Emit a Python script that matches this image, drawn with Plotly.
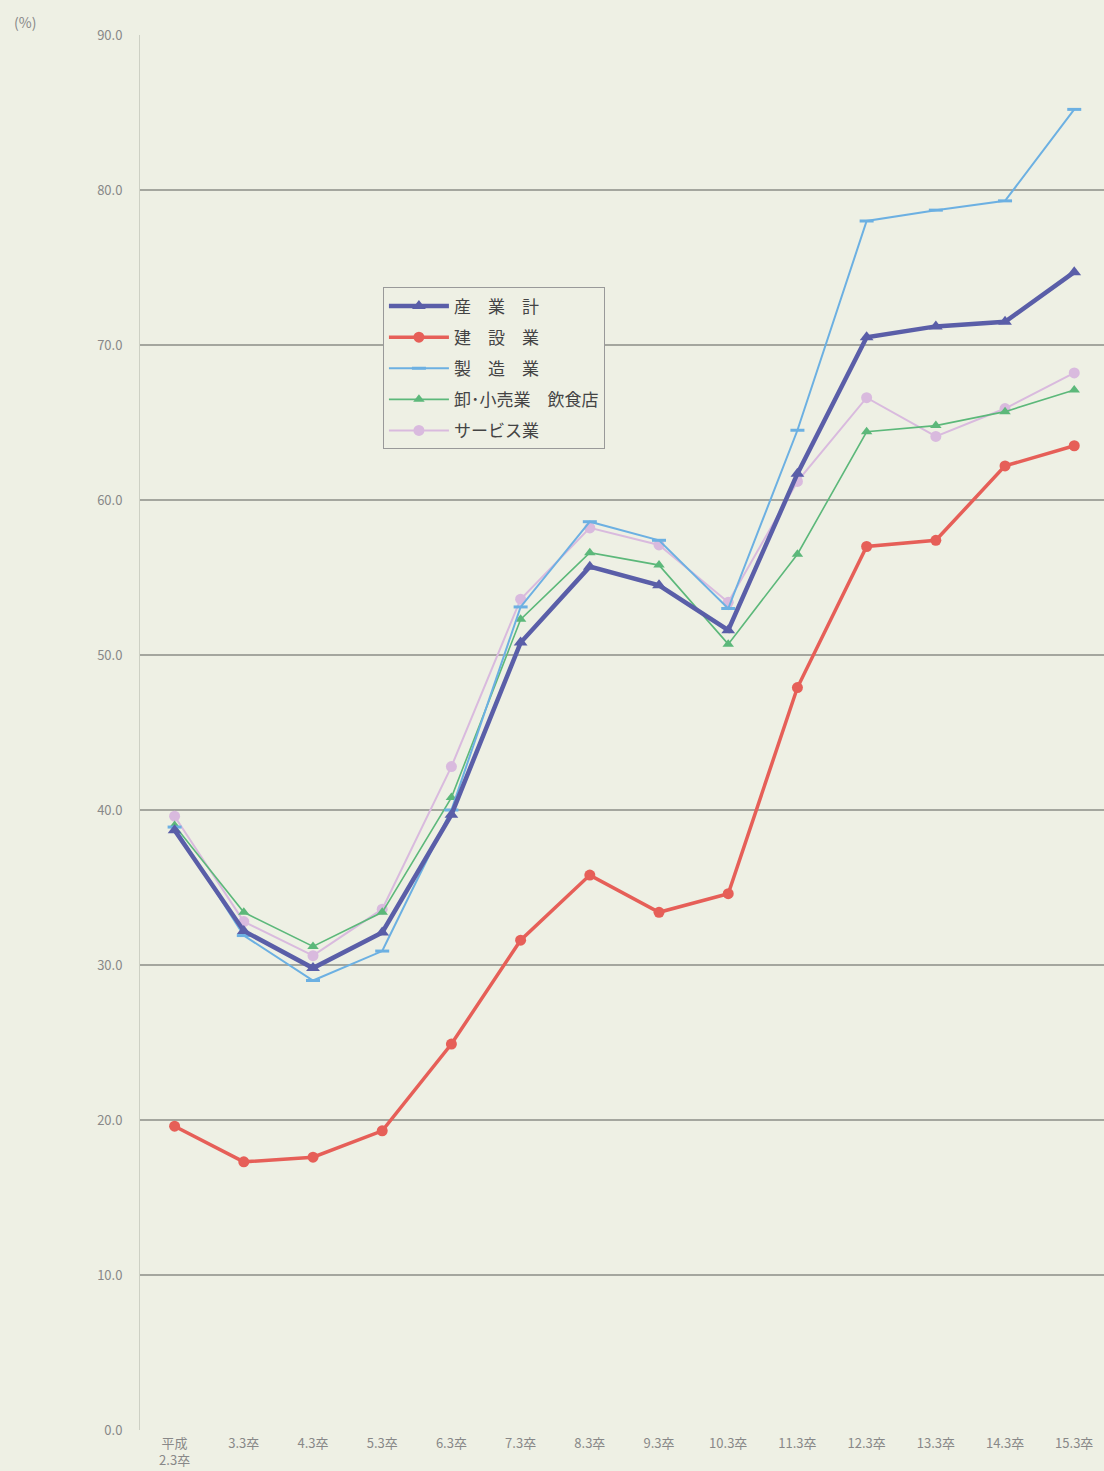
import plotly.graph_objects as go

categories = ["平成<br>2.3卒", "3.3卒", "4.3卒", "5.3卒", "6.3卒", "7.3卒", "8.3卒",
              "9.3卒", "10.3卒", "11.3卒", "12.3卒", "13.3卒", "14.3卒", "15.3卒"]

total = [38.7, 32.2, 29.8, 32.1, 39.7, 50.8, 55.7, 54.5, 51.6, 61.7, 70.5, 71.2, 71.5, 74.7]
construction = [19.6, 17.3, 17.6, 19.3, 24.9, 31.6, 35.8, 33.4, 34.6, 47.9, 57.0, 57.4, 62.2, 63.5]
manufacturing = [38.9, 31.9, 29.0, 30.9, 40.0, 53.1, 58.6, 57.4, 53.0, 64.5, 78.0, 78.7, 79.3, 85.2]
wholesale = [39.0, 33.4, 31.2, 33.4, 40.8, 52.3, 56.6, 55.8, 50.7, 56.5, 64.4, 64.8, 65.7, 67.1]
service = [39.6, 32.8, 30.6, 33.6, 42.8, 53.6, 58.2, 57.1, 53.4, 61.2, 66.6, 64.1, 65.9, 68.2]

series_names = ["産　業　計", "建　設　業", "製　造　業", "卸･小売業　飲食店", "サービス業"]

x = list(range(len(categories)))

styles = [
    dict(color="#5a5ea8", width=4.5, symbol="triangle-up", size=12),
    dict(color="#e65f58", width=3.5, symbol="circle", size=11),
    dict(color="#6cb0e2", width=2, symbol="line-ew", size=10),
    dict(color="#5cb87a", width=1.6, symbol="triangle-up", size=10),
    dict(color="#d9bade", width=2, symbol="circle", size=11),
]
data = [total, construction, manufacturing, wholesale, service]

fig = go.Figure()
order = [4, 3, 2, 1, 0]
for i in order:
    s = styles[i]
    mk = dict(symbol=s["symbol"], size=s["size"], color=s["color"])
    if s["symbol"] == "line-ew":
        mk = dict(symbol="line-ew", size=s["size"], color=s["color"],
                  line=dict(color=s["color"], width=3))
    fig.add_trace(go.Scatter(
        x=x, y=data[i], name=series_names[i], mode="lines+markers",
        line=dict(color=s["color"], width=s["width"]),
        marker=mk, legendgroup=str(i), legendrank=i,
    ))

bg = "#eef0e4"
fig.update_layout(
    width=1104, height=1471,
    paper_bgcolor=bg, plot_bgcolor=bg,
    margin=dict(l=140, r=0, t=35, b=41),
    font=dict(family="Noto Sans CJK JP", color="#555"),
    showlegend=True,
    legend=dict(
        x=0.252, y=0.819, xanchor="left", yanchor="top",
        bgcolor=bg, bordercolor="#999", borderwidth=1,
        font=dict(size=17, color="#444", family="Noto Sans CJK JP"),
        traceorder="grouped", tracegroupgap=6, itemwidth=60,
    ),
    xaxis=dict(
        tickmode="array", tickvals=x, ticktext=categories,
        range=[-0.5, 13.43], showgrid=False, zeroline=False,
        showline=False, ticks="", ticklabelstandoff=4, automargin=False,
        tickfont=dict(size=13, color="#888"),
    ),
    yaxis=dict(
        range=[0, 90], tickvals=[0, 10, 20, 30, 40, 50, 60, 70, 80, 90],
        tickformat=".1f", showgrid=True, gridcolor="#a4a69e", gridwidth=1.5,
        zeroline=False, showline=True, linecolor="#cdd0c4", linewidth=1,
        ticks="", ticklabelstandoff=14, automargin=False,
        tickfont=dict(size=13, color="#888"),
    ),
    annotations=[dict(
        text="(%)", xref="paper", yref="paper", x=-0.133, y=1.009,
        xanchor="left", yanchor="middle", showarrow=False,
        font=dict(size=14, color="#888"),
    )],
)

fig.write_html("out.html", config={"displayModeBar": False},
               post_script="document.body.style.margin='0';")
